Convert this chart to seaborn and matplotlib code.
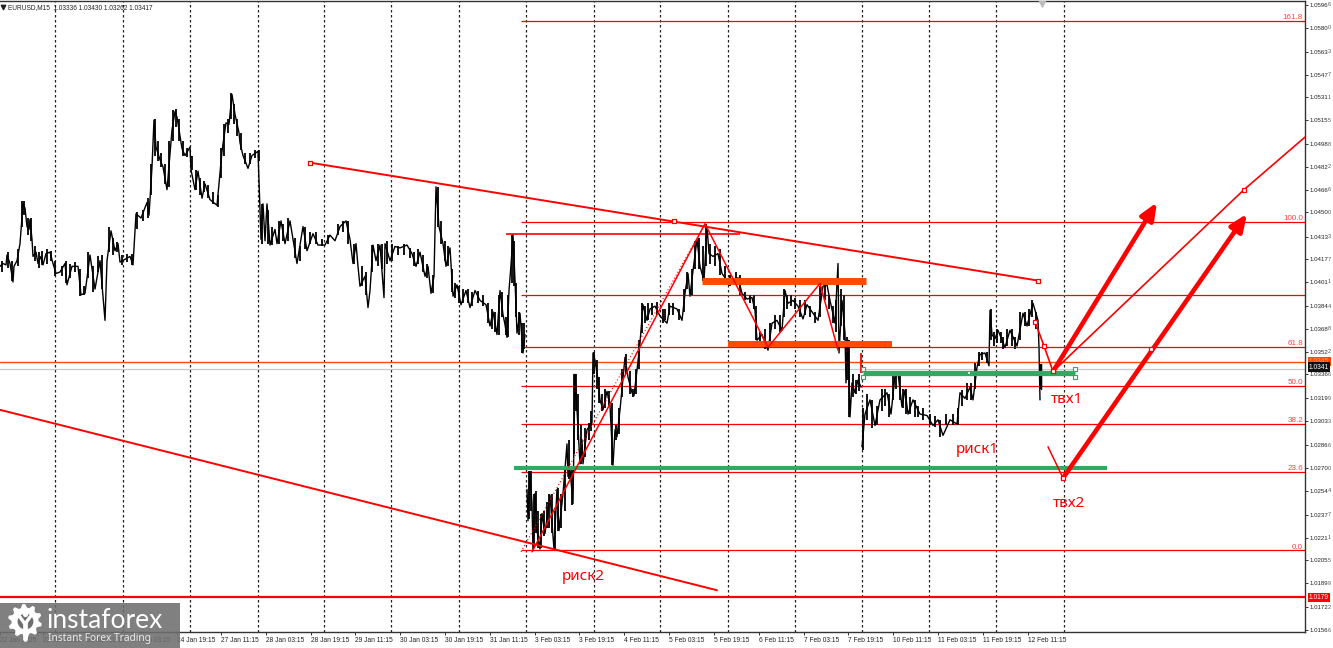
import matplotlib
matplotlib.use("Agg")
import matplotlib.pyplot as plt
from matplotlib.patches import Rectangle, Polygon
import numpy as np
import seaborn as sns

# first stretch of price, 22 Jan - 31 Jan
bars_a = [0, 3, 6, 7, 10, 13, 14, 17, 20, 23, 25, 27, 29, 30, 32, 33, 36, 38, 41, 43, 46, 50, 53, 56, 60, 65, 67, 72, 78, 81,
          85, 90, 95, 100, 105, 107, 111, 115, 118, 120, 125, 130, 133, 136, 141, 147, 149, 152, 154, 156, 160, 163, 167, 172, 175, 177, 182, 185, 190, 191,
          195, 198, 202, 205, 210, 217, 220, 222, 226, 229, 232, 235, 239, 240, 243, 248, 252, 258, 261, 263, 265, 267, 270, 275, 277, 281, 285, 290, 293, 297,
          303, 307, 313, 318, 325, 330, 335, 340, 346, 350, 353, 356, 358, 360, 365, 368, 370, 373, 376, 380, 384, 385, 390, 395, 400, 407, 412, 416, 420, 425,
          428, 431, 434, 436, 439, 443, 446, 450, 453, 457, 461, 466, 470, 475, 480, 486, 490, 493, 497, 500, 503, 505, 507, 509, 511, 513, 515, 517, 520, 523, 525]
close_a = [1.0412, 1.0414, 1.0413, 1.0420, 1.0414, 1.0401, 1.0412, 1.0416, 1.0428, 1.0456, 1.0453, 1.0440, 1.0438, 1.0445, 1.0431, 1.0419, 1.0422, 1.0414, 1.0419, 1.0413, 1.0421, 1.0422, 1.0414, 1.0407, 1.0408, 1.0414, 1.0399, 1.0412, 1.0412, 1.0392,
           1.0393, 1.0420, 1.0396, 1.0416, 1.0374, 1.0416, 1.0437, 1.0423, 1.0428, 1.0415, 1.0417, 1.0419, 1.0413, 1.0449, 1.0446, 1.0457, 1.0448, 1.0482, 1.0515, 1.0496, 1.0487, 1.0482, 1.0466, 1.0508, 1.0521, 1.0517, 1.0495, 1.0490, 1.0496, 1.0480,
           1.0466, 1.0479, 1.0460, 1.0470, 1.0459, 1.0455, 1.0478, 1.0493, 1.0513, 1.0512, 1.0533, 1.0519, 1.0506, 1.0499, 1.0490, 1.0481, 1.0490, 1.0493, 1.0431, 1.0456, 1.0430, 1.0456, 1.0427, 1.0438, 1.0428, 1.0444, 1.0428, 1.0444, 1.0431, 1.0414,
           1.0440, 1.0423, 1.0435, 1.0427, 1.0427, 1.0434, 1.0430, 1.0440, 1.0444, 1.0431, 1.0414, 1.0428, 1.0412, 1.0398, 1.0405, 1.0383, 1.0395, 1.0427, 1.0416, 1.0427, 1.0390, 1.0428, 1.0416, 1.0426, 1.0425, 1.0427, 1.0421, 1.0412, 1.0422, 1.0405,
           1.0412, 1.0393, 1.0405, 1.0468, 1.0440, 1.0428, 1.0412, 1.0425, 1.0391, 1.0399, 1.0385, 1.0395, 1.0383, 1.0395, 1.0388, 1.0385, 1.0370, 1.0380, 1.0364, 1.0395, 1.0378, 1.0371, 1.0362, 1.0395, 1.0413, 1.0434, 1.0402, 1.0365, 1.0379, 1.0351, 1.0364]

# second stretch, 3 Feb - 7 Feb
bars_b = [527, 528, 530, 532, 533, 535, 537, 540, 542, 545, 550, 553, 554, 557, 559, 563, 567, 568, 570, 573, 575, 577, 580, 582, 583, 587, 592, 593, 595, 598,
          600, 603, 607, 610, 613, 615, 617, 620, 625, 628, 632, 634, 637, 640, 643, 647, 650, 655, 660, 667, 670, 677, 682, 685, 688, 690, 693, 697, 700, 704,
          707, 709, 713, 718, 722, 727, 733, 738, 742, 747, 752, 755, 757, 762, 768, 772, 777, 782, 785, 788, 793, 798, 803, 807, 812, 818, 823, 827, 830, 835,
          838, 839, 842, 845, 846, 848, 850, 852, 855, 858, 861]
close_b = [1.0255, 1.0233, 1.0266, 1.0245, 1.0212, 1.0252, 1.0226, 1.0213, 1.0238, 1.0224, 1.0251, 1.0222, 1.0213, 1.0255, 1.0226, 1.0252, 1.0287, 1.0264, 1.0269, 1.0245, 1.0336, 1.0311, 1.0273, 1.0290, 1.0273, 1.0297, 1.0302, 1.0351, 1.0346, 1.0332,
           1.0318, 1.0311, 1.0324, 1.0314, 1.0272, 1.0297, 1.0292, 1.0311, 1.0348, 1.0334, 1.0323, 1.0321, 1.0339, 1.0358, 1.0385, 1.0374, 1.0382, 1.0384, 1.0377, 1.0372, 1.0384, 1.0382, 1.0374, 1.0393, 1.0407, 1.0391, 1.0409, 1.0431, 1.0412, 1.0402,
           1.0440, 1.0421, 1.0419, 1.0421, 1.0407, 1.0402, 1.0401, 1.0404, 1.0393, 1.0389, 1.0390, 1.0381, 1.0360, 1.0364, 1.0353, 1.0372, 1.0374, 1.0367, 1.0395, 1.0386, 1.0388, 1.0384, 1.0375, 1.0385, 1.0380, 1.0374, 1.0398, 1.0399, 1.0388, 1.0372,
           1.0414, 1.0351, 1.0388, 1.0365, 1.0330, 1.0360, 1.0306, 1.0330, 1.0323, 1.0332, 1.0327]

# third stretch, 7 Feb - 12 Feb
bars_c = [862, 865, 870, 875, 880, 887, 891, 895, 898, 902, 905, 908, 913, 920, 927, 933, 938, 943, 950, 957, 960, 965, 970, 973, 977, 980, 985, 989, 990, 992,
          995, 998, 1005, 1010, 1017, 1023, 1027, 1033, 1038, 1039, 1040]
close_c = [1.0285, 1.0308, 1.0318, 1.0300, 1.0318, 1.0323, 1.0308, 1.0335, 1.0337, 1.0313, 1.0325, 1.0308, 1.0318, 1.0308, 1.0307, 1.0300, 1.0304, 1.0293, 1.0304, 1.0301, 1.0323, 1.0319, 1.0327, 1.0318, 1.0341, 1.0350, 1.0351, 1.0342, 1.0381, 1.0364,
           1.0361, 1.0367, 1.0355, 1.0367, 1.0356, 1.0379, 1.0370, 1.0386, 1.0374, 1.0355, 1.0318]
last_bars = [1041, 1041]
last_close = [1.0343, 1.0326]

# bar ranges read along the price
wick_bars = [2, 8, 12, 18, 22, 24, 28, 31, 35, 39, 42, 47, 51, 55, 62, 66, 70, 75, 80, 84, 88, 93, 98, 102, 109, 113, 117, 122, 127, 132,
             137, 143, 148, 151, 155, 158, 161, 165, 169, 173, 176, 179, 183, 187, 192, 196, 200, 204, 208, 213, 218, 221, 224, 228, 231, 234, 237, 241, 245, 250,
             255, 259, 262, 268, 272, 279, 283, 288, 295, 300, 305, 310, 316, 322, 328, 338, 343, 348, 354, 362, 366, 372, 378, 382, 387, 392, 398, 404, 410, 414,
             418, 423, 427, 433, 438, 441, 445, 448, 452, 455, 459, 463, 468, 472, 478, 483, 488, 492, 495, 499, 502, 506, 508, 512, 514, 516, 519, 522, 524,
             529, 531, 534, 536, 538, 541, 544, 547, 549, 552, 555, 558, 561, 565, 569, 572, 574, 576, 578, 581, 585, 589, 591, 594, 597, 599, 602, 605, 609, 612,
             616, 619, 622, 626, 630, 633, 636, 639, 642, 645, 648, 652, 657, 663, 665, 669, 673, 679, 684, 687, 692, 695, 699, 703, 706, 710, 715, 720, 725, 730,
             736, 740, 745, 750, 754, 756, 760, 765, 770, 775, 780, 784, 787, 791, 795, 800, 805, 810, 815, 820, 825, 829, 833, 836, 841, 844, 847, 849, 853, 856, 859,
             863, 867, 872, 877, 882, 885, 889, 893, 896, 900, 903, 906, 910, 915, 918, 923, 930, 935, 940, 946, 953, 958, 962, 967, 971, 975, 979, 982, 987,
             991, 994, 997, 1001, 1003, 1007, 1012, 1015, 1020, 1025, 1029, 1032, 1036]
wick_low = [1.0408, 1.0411, 1.0402, 1.0412, 1.0440, 1.0448, 1.0434, 1.0430, 1.0416, 1.0411, 1.0413, 1.0414, 1.0416, 1.0405, 1.0405, 1.0400, 1.0404, 1.0408, 1.0391, 1.0392, 1.0404, 1.0394, 1.0408, 1.0396, 1.0422, 1.0420, 1.0422, 1.0413, 1.0415, 1.0413,
            1.0438, 1.0444, 1.0446, 1.0462, 1.0490, 1.0486, 1.0482, 1.0470, 1.0468, 1.0500, 1.0510, 1.0500, 1.0490, 1.0489, 1.0480, 1.0466, 1.0462, 1.0464, 1.0460, 1.0456, 1.0454, 1.0474, 1.0490, 1.0506, 1.0516, 1.0512, 1.0504, 1.0494, 1.0484, 1.0484,
            1.0488, 1.0486, 1.0428, 1.0428, 1.0427, 1.0428, 1.0430, 1.0430, 1.0418, 1.0416, 1.0424, 1.0428, 1.0428, 1.0426, 1.0428, 1.0434, 1.0436, 1.0428, 1.0414, 1.0398, 1.0392, 1.0408, 1.0412, 1.0410, 1.0414, 1.0416, 1.0420, 1.0420, 1.0418, 1.0412,
            1.0414, 1.0408, 1.0404, 1.0393, 1.0440, 1.0428, 1.0416, 1.0412, 1.0394, 1.0390, 1.0386, 1.0386, 1.0386, 1.0384, 1.0386, 1.0384, 1.0372, 1.0368, 1.0366, 1.0364, 1.0376, 1.0364, 1.0362, 1.0400, 1.0398, 1.0376, 1.0364, 1.0351, 1.0354,
            1.0234, 1.0240, 1.0214, 1.0224, 1.0214, 1.0214, 1.0222, 1.0228, 1.0228, 1.0224, 1.0213, 1.0226, 1.0228, 1.0240, 1.0262, 1.0244, 1.0280, 1.0310, 1.0290, 1.0273, 1.0278, 1.0290, 1.0296, 1.0336, 1.0326, 1.0316, 1.0310, 1.0312, 1.0314, 1.0272,
            1.0290, 1.0294, 1.0320, 1.0336, 1.0322, 1.0320, 1.0322, 1.0340, 1.0365, 1.0372, 1.0374, 1.0378, 1.0378, 1.0372, 1.0374, 1.0378, 1.0378, 1.0374, 1.0380, 1.0396, 1.0392, 1.0410, 1.0410, 1.0402, 1.0412, 1.0414, 1.0412, 1.0406, 1.0400, 1.0398,
            1.0400, 1.0392, 1.0388, 1.0386, 1.0382, 1.0360, 1.0358, 1.0354, 1.0358, 1.0368, 1.0366, 1.0376, 1.0382, 1.0384, 1.0382, 1.0376, 1.0378, 1.0376, 1.0372, 1.0376, 1.0388, 1.0382, 1.0372, 1.0366, 1.0370, 1.0360, 1.0332, 1.0306, 1.0320, 1.0322, 1.0324,
            1.0283, 1.0304, 1.0298, 1.0300, 1.0310, 1.0314, 1.0306, 1.0318, 1.0326, 1.0318, 1.0312, 1.0308, 1.0308, 1.0306, 1.0306, 1.0304, 1.0300, 1.0299, 1.0292, 1.0300, 1.0300, 1.0300, 1.0314, 1.0318, 1.0318, 1.0326, 1.0342, 1.0346, 1.0344,
            1.0360, 1.0356, 1.0358, 1.0358, 1.0354, 1.0356, 1.0356, 1.0354, 1.0360, 1.0370, 1.0370, 1.0376, 1.0368]
wick_high = [1.0416, 1.0422, 1.0416, 1.0424, 1.0458, 1.0458, 1.0446, 1.0446, 1.0426, 1.0422, 1.0423, 1.0424, 1.0423, 1.0416, 1.0412, 1.0416, 1.0414, 1.0415, 1.0410, 1.0398, 1.0422, 1.0412, 1.0419, 1.0420, 1.0440, 1.0432, 1.0429, 1.0420, 1.0421, 1.0421,
             1.0450, 1.0452, 1.0460, 1.0484, 1.0516, 1.0500, 1.0492, 1.0484, 1.0500, 1.0522, 1.0523, 1.0516, 1.0500, 1.0495, 1.0490, 1.0480, 1.0474, 1.0472, 1.0469, 1.0464, 1.0462, 1.0495, 1.0512, 1.0516, 1.0534, 1.0526, 1.0516, 1.0506, 1.0492, 1.0492,
             1.0494, 1.0494, 1.0456, 1.0452, 1.0440, 1.0444, 1.0442, 1.0446, 1.0432, 1.0426, 1.0440, 1.0436, 1.0436, 1.0431, 1.0434, 1.0442, 1.0444, 1.0444, 1.0428, 1.0412, 1.0408, 1.0427, 1.0428, 1.0428, 1.0430, 1.0428, 1.0426, 1.0428, 1.0425, 1.0422,
             1.0424, 1.0420, 1.0414, 1.0406, 1.0468, 1.0444, 1.0430, 1.0426, 1.0410, 1.0400, 1.0398, 1.0396, 1.0396, 1.0394, 1.0395, 1.0392, 1.0386, 1.0382, 1.0380, 1.0392, 1.0394, 1.0376, 1.0392, 1.0434, 1.0430, 1.0400, 1.0380, 1.0372, 1.0372,
             1.0268, 1.0268, 1.0252, 1.0254, 1.0240, 1.0238, 1.0240, 1.0246, 1.0252, 1.0252, 1.0240, 1.0256, 1.0252, 1.0270, 1.0290, 1.0270, 1.0336, 1.0336, 1.0322, 1.0300, 1.0298, 1.0302, 1.0310, 1.0352, 1.0346, 1.0334, 1.0322, 1.0326, 1.0324, 1.0316,
             1.0300, 1.0312, 1.0340, 1.0350, 1.0338, 1.0326, 1.0340, 1.0360, 1.0386, 1.0384, 1.0386, 1.0386, 1.0387, 1.0382, 1.0382, 1.0386, 1.0386, 1.0382, 1.0396, 1.0408, 1.0410, 1.0430, 1.0432, 1.0426, 1.0442, 1.0428, 1.0426, 1.0424, 1.0412, 1.0406,
             1.0408, 1.0406, 1.0394, 1.0392, 1.0392, 1.0384, 1.0366, 1.0368, 1.0372, 1.0378, 1.0378, 1.0396, 1.0392, 1.0392, 1.0390, 1.0388, 1.0388, 1.0384, 1.0380, 1.0398, 1.0400, 1.0392, 1.0384, 1.0388, 1.0396, 1.0392, 1.0362, 1.0360, 1.0336, 1.0332, 1.0336,
             1.0312, 1.0322, 1.0318, 1.0314, 1.0326, 1.0326, 1.0322, 1.0336, 1.0338, 1.0338, 1.0326, 1.0326, 1.0320, 1.0318, 1.0314, 1.0312, 1.0308, 1.0307, 1.0304, 1.0308, 1.0308, 1.0312, 1.0325, 1.0330, 1.0330, 1.0344, 1.0352, 1.0352, 1.0352,
             1.0382, 1.0366, 1.0368, 1.0366, 1.0362, 1.0368, 1.0368, 1.0362, 1.0380, 1.0380, 1.0382, 1.0388, 1.0380]

# axes ticks
y_ticks = [1.0596, 1.0580, 1.0563, 1.0547, 1.0531, 1.0515, 1.0498, 1.0482, 1.0466, 1.0450, 1.0433, 1.0417, 1.0401, 1.0384,
           1.0368, 1.0352, 1.0336, 1.0319, 1.0303, 1.0286, 1.0270, 1.0254, 1.0237, 1.0221, 1.0205, 1.0189, 1.0172, 1.0156]
y_ghost = ['6', '0', '3', '7', '1', '5', '8', '2', '6', '0', '3', '7', '1', '4', '8', '2', '6', '9', '3', '6', '0', '4', '7', '1', '5', '9', '2', '6']
x_ticks = [0, 42.6, 87.4, 132, 177, 221, 266, 311, 355, 400, 445, 490, 535, 579, 624, 669, 714, 758.6, 803.6, 848, 893, 938, 983, 1027.5]
x_labels = ['22 Jan 2025', '22 Jan 19:15', '23 Jan 11:15', '24 Jan 03:15', '24 Jan 19:15', '27 Jan 11:15', '28 Jan 03:15', '28 Jan 19:15',
            '29 Jan 11:15', '30 Jan 03:15', '30 Jan 19:15', '31 Jan 11:15', '3 Feb 03:15', '3 Feb 19:15', '4 Feb 11:15', '5 Feb 03:15',
            '5 Feb 19:15', '6 Feb 11:15', '7 Feb 03:15', '7 Feb 19:15', '10 Feb 11:15', '11 Feb 03:15', '11 Feb 19:15', '12 Feb 11:15']
grid_bars = [55, 123, 190, 257.5, 324, 391, 458.6, 526, 593.6, 660, 727.5, 795, 862, 929, 996, 1063.6]

# fibo grid
fib_levels = [1.0585, 1.0443, 1.0392, 1.0355, 1.0328, 1.0301, 1.0267, 1.0212]
fib_names = ['161.8', '100.0', '', '61.8', '50.0', '38.2', '23.6', '0.0']

# drawn objects (bar, price)
upper_x, upper_y = [310, 1038], [1.0485, 1.0402]
lower_x, lower_y = [0, 717], [1.0311, 1.0184]
zig_x, zig_y = [532, 705, 768, 820, 838], [1.0211, 1.0442, 1.0355, 1.0400, 1.0353]
dot_x, dot_y = [521, 705], [1.0211, 1.0442]
down_x, down_y = [1035, 1044, 1053], [1.0373, 1.0356, 1.0338]
chan_x, chan_y = [1053, 1244, 1305], [1.0338, 1.0466, 1.0503]
small_x, small_y = [1048, 1063], [1.0285, 1.0263]
handle_x = [310, 674, 1038, 1035, 1044, 1053, 1244, 1063, 1151]
handle_y = [1.0485, 1.0444, 1.0402, 1.0373, 1.0356, 1.0338, 1.0466, 1.0263, 1.0354]
green_handle_x = [863, 863, 1075, 1075]
green_handle_y = [1.0340, 1.0334, 1.0340, 1.0334]

fig, ax = plt.subplots(figsize=(13.33, 6.48), dpi=100)
sns.set_theme(style="white")
plt.rcParams['font.family'] = ['Noto Sans', 'DejaVu Sans']
ax.set_facecolor('white')
ax.set_position([0, 1 - 632 / 648, 1305 / 1333, 631 / 648])
ax.set_xlim(0, 1305)
ax.set_ylim(1.01546, 1.05988)

red = '#ff0000'
green = '#2eaa62'
orange = '#ff4a00'

ax.vlines(grid_bars, 1.01546, 1.05988, colors='#222222', linewidth=0.9, linestyles=(0, (2, 2)), zorder=1)

# horizontal levels
for lev, nm in zip(fib_levels, fib_names):
    ax.hlines(lev, 521, 1305, colors=red, linewidth=0.9, zorder=2)
    if nm:
        ax.text(1303, lev + 0.00024, nm, color='#ff4040', fontsize=5.8, family='Liberation Sans', ha='right', va='center', zorder=6)
ax.axhline(1.0345, color=orange, lw=1.0, zorder=2)
ax.axhline(1.0340, color='#c8c8c8', lw=0.9, zorder=2)
ax.axhline(1.0179, color=red, lw=1.6, zorder=2)
ax.hlines(1.0435, 506, 740, colors=red, linewidth=1.2, zorder=2)

# price
for bx, cl in [(bars_a, close_a), (bars_b, close_b), (bars_c, close_c), (last_bars, last_close)]:
    sns.lineplot(x=bx, y=cl, color='black', linewidth=1.0, estimator=None, sort=False, ax=ax, zorder=3, legend=False)
ax.vlines(wick_bars, wick_low, wick_high, colors='black', linewidth=1.3, zorder=3)
ax.vlines(1041, 1.0326, 1.0343, colors='black', linewidth=1.6, zorder=3)

# zones
ax.hlines(1.0402, 702, 866, colors=orange, linewidth=5.0, zorder=4)
ax.hlines(1.0357, 728, 892, colors=orange, linewidth=4.3, zorder=4)
ax.hlines(1.0337, 863, 1075, colors=green, linewidth=3.8, zorder=4)
ax.hlines(1.0270, 514, 1107, colors=green, linewidth=3.0, zorder=4)
ax.vlines(861, 1.0337, 1.0351, colors=red, linewidth=1.3, zorder=4)

# trend lines
sns.lineplot(x=upper_x, y=upper_y, color=red, linewidth=1.4, estimator=None, ax=ax, zorder=5, legend=False)
sns.lineplot(x=lower_x, y=lower_y, color=red, linewidth=1.4, estimator=None, ax=ax, zorder=5, legend=False)
sns.lineplot(x=zig_x, y=zig_y, color=red, linewidth=1.1, estimator=None, sort=False, ax=ax, zorder=5, legend=False)
ax.plot(dot_x, dot_y, color=red, lw=0.8, ls=(0, (1, 2)), zorder=5)
sns.lineplot(x=down_x, y=down_y, color=red, linewidth=1.2, estimator=None, sort=False, ax=ax, zorder=5, legend=False)
sns.lineplot(x=chan_x, y=chan_y, color=red, linewidth=1.2, estimator=None, sort=False, ax=ax, zorder=5, legend=False)
sns.lineplot(x=small_x, y=small_y, color=red, linewidth=1.1, estimator=None, sort=False, ax=ax, zorder=5, legend=False)
sns.scatterplot(x=green_handle_x, y=green_handle_y, marker='s', s=9, facecolor='white', edgecolor=green, linewidth=0.8, ax=ax, zorder=6, legend=False)

# big arrows
for start, end in [((1053, 1.0338), (1157, 1.0457)), ((1063, 1.0263), (1247, 1.0449))]:
    ax.annotate('', xy=end, xytext=start, zorder=6,
                arrowprops=dict(arrowstyle='-|>,head_length=0.85,head_width=0.36', color=red, lw=3.3, shrinkA=0, shrinkB=0))
ax.scatter(handle_x, handle_y, marker='s', s=11, facecolor='white', edgecolor=red, linewidth=0.9, zorder=7)
ax.scatter([969], [1.0337], marker='s', s=2, color='white', linewidth=0, zorder=7)

# notes
ax.text(1067, 1.0318, 'твх1', color=red, fontsize=11, ha='center', va='center', zorder=7)
ax.text(1069, 1.0245, 'твх2', color=red, fontsize=11, ha='center', va='center', zorder=7)
ax.text(977, 1.0283, 'риск1', color=red, fontsize=11, ha='center', va='center', zorder=7)
ax.text(583, 1.0194, 'риск2', color=red, fontsize=11, ha='center', va='center', zorder=7)
ax.text(8, 1.05945, 'EURUSD,M15  1.03336 1.03430 1.03262 1.03417', color='#222222', fontsize=4.7, family='Liberation Sans', ha='left', va='center', zorder=7)
ax.scatter([3], [1.05945], marker='v', s=10, color='#222222', zorder=7)
ax.scatter([1042], [1.0598], marker='v', s=45, color='#bcbcbc', zorder=7)

# axes
ax.spines['left'].set_visible(False)
for side in ['top', 'right', 'bottom']:
    ax.spines[side].set_color('#333333')
    ax.spines[side].set_linewidth(1.0)
ax.yaxis.tick_right()
ax.set_yticks(y_ticks)
ax.set_yticklabels(['%.4f' % v for v in y_ticks])
ax.tick_params(axis='y', length=2, width=0.7, color='#333333', labelsize=4.4, labelcolor='#222222', pad=1, labelfontfamily='Liberation Sans')
ax.set_xticks(x_ticks)
ax.set_xticklabels(x_labels, ha='left')
ax.tick_params(axis='x', length=2, width=0.7, color='#333333', labelsize=4.8, labelcolor='#222222', pad=1.5, labelfontfamily='Liberation Sans')
ax.set_xlabel('')
ax.set_ylabel('')

# ghost digit of the price scale
for v, g in zip(y_ticks, y_ghost):
    ax.annotate(g, xy=(1305, v), xytext=(23, 0), xycoords='data', textcoords='offset pixels', fontsize=4.0, color='#555555',
                family='Liberation Sans', va='center', ha='left', annotation_clip=False)

# price tags
for v, lab, bg, fg in [(1.0345, '1.0345', orange, '#ff9a70'), (1.0341, '1.0341', '#111111', 'white'), (1.0179, '1.0179', red, 'white')]:
    ax.annotate(lab, xy=(1305, v), xytext=(4, 0), xycoords='data', textcoords='offset pixels', fontsize=4.8, color=fg, va='center', ha='left',
                family='Liberation Sans', annotation_clip=False, zorder=9, bbox=dict(boxstyle='square,pad=0.2', fc=bg, ec='none'))

# logo
fig.add_artist(Rectangle((0, 0), 180 / 1333, 45 / 648, transform=fig.transFigure, facecolor='#6e6e6e', alpha=0.88, edgecolor='none', zorder=20))
logo = fig.add_axes([0, 0, 180 / 1333, 45 / 648], facecolor='none', zorder=21)
logo.set_xlim(0, 180)
logo.set_ylim(45, 0)
logo.axis('off')
ang = np.linspace(0, 2 * np.pi, 40, endpoint=False) + np.pi / 20
rad = [17, 17, 13.5, 13.5] * 10
logo.add_patch(Polygon(np.c_[25 + np.array(rad) * np.cos(ang), 18 + np.array(rad) * np.sin(ang)], closed=True, facecolor='white', edgecolor='none'))
logo.scatter([25], [18], marker='o', s=130, color='#6e6e6e', linewidth=0)
logo.plot([18.5, 25, 31.5], [12, 21, 12], color='white', lw=2.4)
logo.scatter([25], [11], marker='o', s=14, color='white', linewidth=0)
logo.plot([25, 25], [20, 36], color='white', lw=3.4)
logo.text(47, 18, 'instaforex', color='white', fontsize=19, family='Lato', ha='left', va='center', fontweight='normal')
logo.text(48, 36, 'Instant Forex Trading', color='#e8e8e8', fontsize=7.3, family='Noto Sans', ha='left', va='center')

fig.savefig('out.png', dpi=100)
